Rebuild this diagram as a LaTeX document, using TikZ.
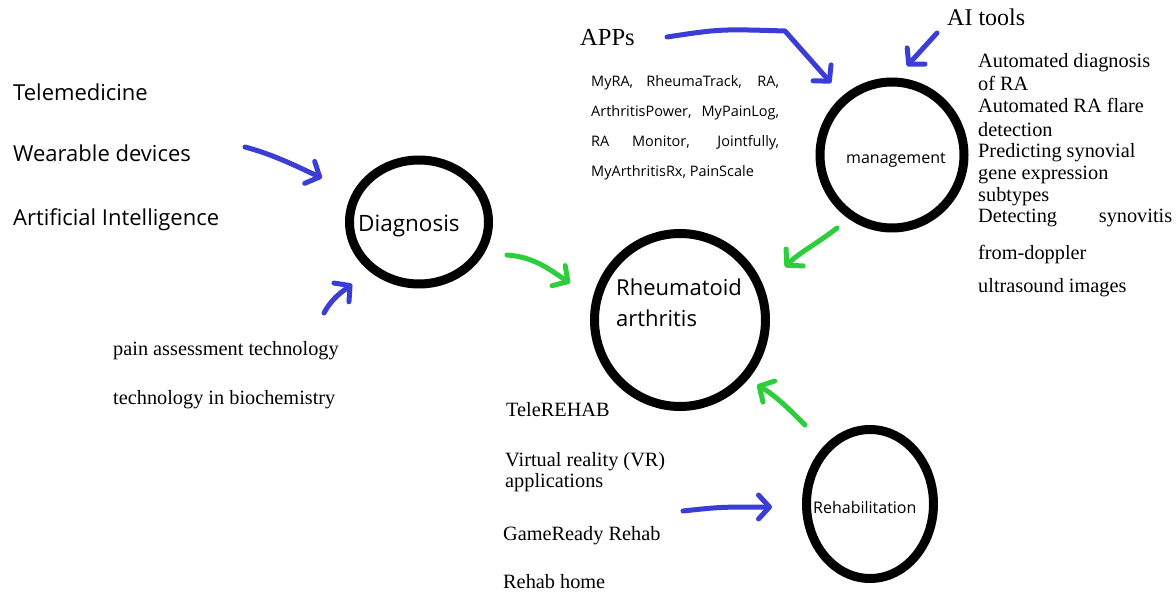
\documentclass[tikz,border=0pt]{standalone}
\usepackage{fontspec}
\setmainfont{Liberation Serif}
\newfontfamily\sansf{Open Sans}
\usetikzlibrary{shapes.geometric,arrows.meta}
\definecolor{penblue}{RGB}{58,62,212}
\definecolor{pengreen}{RGB}{45,205,60}
\tikzset{
  ring/.style={draw=black, line width=9pt, ellipse, inner sep=0pt},
  lbl/.style={inner sep=0pt, anchor=base west},
  serifl/.style={lbl, font=\fontsize{20.3}{22}\selectfont},
  sansbig/.style={lbl, font=\sansf\fontsize{22}{24}\selectfont},
  bluearrow/.style={draw=penblue, line width=5pt, line cap=round, line join=round,
    -{Straight Barb[length=11pt,width=24pt,line cap=round,line join=round]}},
  greenarrow/.style={bluearrow, draw=pengreen},
}
\begin{document}
\begin{tikzpicture}[x=1pt,y=-1pt]
\useasboundingbox[fill=white] (0,0) rectangle (1176,593);

% circles
\node[ring, minimum width=139pt, minimum height=124pt] (dia) at (419,222) {};
\node[ring, minimum width=171pt, minimum height=173pt] (ra) at (680,320) {};
\node[ring, minimum width=144pt, minimum height=146pt] (man) at (892,155) {};
\node[ring, minimum width=127pt, minimum height=149pt] (reh) at (870,504) {};

% circle labels
\node[lbl, font=\sansf\fontsize{22.5}{24}\selectfont] (diat) at (358,232) {Diagnosis};
\node[lbl, font=\sansf\fontsize{22}{31}\selectfont] (rat1) at (616,296) {Rheumatoid};
\node[lbl, font=\sansf\fontsize{22}{31}\selectfont] (rat2) at (616,327) {arthritis};
\node[lbl, font=\sansf\fontsize{16}{18}\selectfont] (mant) at (846,164) {management};
\node[lbl, font=\sansf\fontsize{16}{18}\selectfont] (reht) at (813,513) {Rehabilitation};

% left texts
\node[sansbig] (tele) at (13,101) {Telemedicine};
\node[sansbig] (wear) at (13,162) {Wearable devices};
\node[sansbig] (artint) at (13,226) {Artificial Intelligence};
\node[serifl] (pain) at (113,356) {pain assessment technology};
\node[serifl] (bioc) at (113,405) {technology in biochemistry};

% apps
\node[lbl, font=\fontsize{24.5}{26}\selectfont] (apps) at (580,46) {APPs};
\foreach \txt/\y [count=\i] in {
  {\makebox[188pt][s]{MyRA, RheumaTrack, RA,}}/87,
  {\makebox[188pt][s]{ArthritisPower, MyPainLog,}}/117,
  {\makebox[188pt][s]{RA Monitor, Jointfully,}}/147,
  {MyArthritisRx, PainScale}/177}
  \node[lbl, font=\sansf\fontsize{14.5}{16}\selectfont] (app\i) at (591,\y) {\txt};

% AI tools
\node[lbl, font=\fontsize{24}{26}\selectfont] (aitools) at (947,26) {AI tools};
\foreach \txt/\y [count=\i] in {
  Automated diagnosis/68, of RA/91, Automated RA flare/113, detection/137,
  Predicting synovial/158, gene expression/180, subtypes/202,
  {\makebox[194pt][s]{Detecting synovitis}}/223, from-doppler/260,
  ultrasound images/293}
  \node[serifl] (ai\i) at (978,\y) {\txt};

% rehab list
\node[serifl] (rehab1) at (506,417) {TeleREHAB};
\node[serifl] (rehab2) at (505,467) {Virtual reality (VR)};
\node[serifl] (rehab3) at (505,488) {applications};
\node[serifl] (rehab4) at (503,540) {GameReady Rehab};
\node[serifl] (rehab5) at (503,588) {Rehab home};

% arrow end points
\coordinate (b1s) at (245,147); \coordinate (b1e) at (322,178);
\coordinate (b2s) at (324,313); \coordinate (b2e) at (352,284);
\coordinate (b3s) at (667,37);  \coordinate (b3m) at (785,31); \coordinate (b3e) at (831,83);
\coordinate (b4s) at (937,33);  \coordinate (b4e) at (907,66);
\coordinate (b5s) at (683,511); \coordinate (b5e) at (772,507);
\coordinate (g1s) at (507,255); \coordinate (g1e) at (570,283);
\coordinate (g2s) at (837,228); \coordinate (g2e) at (785,267);
\coordinate (g3s) at (805,425); \coordinate (g3e) at (757,385);

% blue arrows
\draw[bluearrow] (b1s) .. controls (275,155) and (300,168) .. (b1e);
\draw[bluearrow] (b2s) .. controls (332,298) and (342,292) .. (b2e);
\draw[bluearrow] (b3s) .. controls (720,29) .. (b3m) -- (b3e);
\draw[bluearrow] (b4s) -- (b4e);
\draw[bluearrow] (b5s) .. controls (720,507) .. (b5e);

% green arrows
\draw[greenarrow] (g1s) .. controls (535,257) and (550,270) .. (g1e);
\draw[greenarrow] (g2s) .. controls (815,245) and (800,252) .. (g2e);
\draw[greenarrow] (g3s) .. controls (790,410) and (775,395) .. (g3e);
\end{tikzpicture}
\end{document}
